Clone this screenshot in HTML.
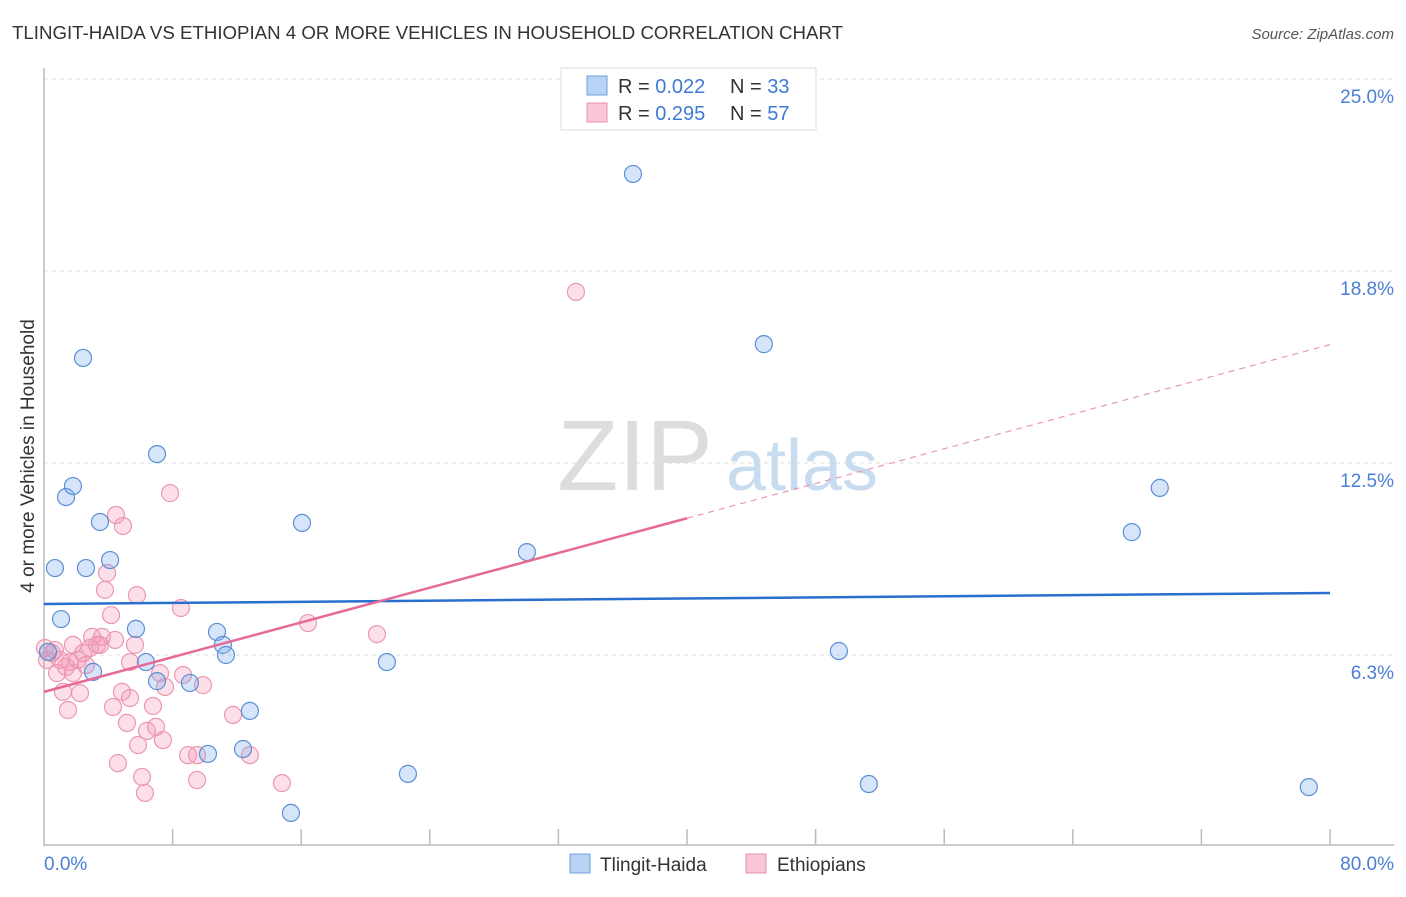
<!DOCTYPE html>
<html><head><meta charset="utf-8"><style>
body{margin:0;background:#fff;font-family:"Liberation Sans",sans-serif;}
svg text{font-family:"Liberation Sans",sans-serif;}
</style></head><body>
<svg width="1406" height="892" xmlns="http://www.w3.org/2000/svg">
<text x="12" y="39" font-size="18" fill="#333" textLength="831" lengthAdjust="spacingAndGlyphs">TLINGIT-HAIDA VS ETHIOPIAN 4 OR MORE VEHICLES IN HOUSEHOLD CORRELATION CHART</text>
<text x="1394" y="39" font-size="15" fill="#555" font-style="italic" text-anchor="end">Source: ZipAtlas.com</text>
<g>
<text x="635" y="490" font-size="100" fill="#ddd" font-family="Liberation Serif" text-anchor="middle">ZIP</text>
<text x="802" y="490" font-size="72" fill="#c8dcf0" text-anchor="middle">atlas</text>
</g>
<g id="grid"></g>
<g id="axes"></g>
<g id="pts"></g>
<g id="lines"></g>
<text transform="translate(34,456) rotate(-90)" font-size="19" fill="#333" text-anchor="middle">4 or more Vehicles in Household</text>
<text x="44" y="870" font-size="19" fill="#4a7fd4">0.0%</text>
<text x="1394" y="870" font-size="19" fill="#4a7fd4" text-anchor="end">80.0%</text>
<g>
<rect x="561" y="68" width="255" height="62" fill="#fff" stroke="#ddd"/>
<rect x="587" y="76" width="20" height="19" fill="#b9d3f5" stroke="#6fa0e0"/>
<rect x="587" y="103" width="20" height="19" fill="#f9c7d6" stroke="#e890a8"/>
<text x="618" y="93" font-size="20" fill="#333">R = <tspan fill="#3d7ad6">0.022</tspan></text>
<text x="730" y="93" font-size="20" fill="#333">N = <tspan fill="#3d7ad6">33</tspan></text>
<text x="618" y="120" font-size="20" fill="#333">R = <tspan fill="#3d7ad6">0.295</tspan></text>
<text x="730" y="120" font-size="20" fill="#333">N = <tspan fill="#3d7ad6">57</tspan></text>
</g>
<g>
<rect x="570" y="854" width="20" height="19" fill="#b9d3f5" stroke="#6fa0e0"/>
<text x="600" y="871" font-size="19" fill="#333">Tlingit-Haida</text>
<rect x="746" y="854" width="20" height="19" fill="#f9c7d6" stroke="#e890a8"/>
<text x="777" y="871" font-size="19" fill="#333">Ethiopians</text>
</g>
</svg>
<script>
const yTicks=[6.25,12.5,18.75,25];
const yTickLabels=["6.3%","12.5%","18.8%","25.0%"];
const xTicks=[8,16,24,32,40,48,56,64,72,80];
const blueX=[0.68,1.06,1.37,1.80,2.43,2.61,3.05,3.48,4.11,5.72,6.34,7.03,7.03,9.08,10.20,10.76,11.13,11.32,12.38,12.81,15.36,16.05,21.33,22.64,30.04,36.64,44.78,49.45,51.31,67.67,69.41,78.68,0.25];
const blueY=[9.08,7.42,11.39,11.75,15.92,9.08,5.70,10.58,9.34,7.10,6.02,12.79,5.40,5.34,3.03,7.00,6.58,6.25,3.19,4.43,1.11,10.55,6.02,2.38,9.60,21.91,16.37,6.38,2.05,10.25,11.69,1.95,6.35];
const pinkX=[7.84,4.48,4.91,3.92,3.79,5.78,8.52,4.17,16.42,5.66,2.99,3.61,3.30,1.80,0.50,1.62,5.35,2.43,7.22,8.65,7.53,9.89,0.81,1.80,1.18,2.24,4.85,5.35,4.29,6.78,1.49,11.76,5.16,6.97,6.41,7.40,5.85,8.96,9.52,12.81,4.60,6.10,9.52,14.80,6.28,33.09,20.71,0.19,0.68,1.00,1.37,2.61,2.86,3.48,2.11,4.42,0.06];
const pinkY=[11.52,10.81,10.45,8.92,8.37,8.20,7.78,7.55,7.29,6.58,6.84,6.84,6.58,6.58,6.31,6.02,6.02,6.31,5.66,5.60,5.21,5.27,5.66,5.66,5.05,5.01,5.05,4.85,4.56,4.59,4.46,4.30,4.04,3.91,3.78,3.48,3.32,2.99,2.99,2.99,2.73,2.28,2.18,2.08,1.76,18.07,6.93,6.09,6.41,6.09,5.86,5.92,6.48,6.58,6.09,6.74,6.48];
const blueTrend=[7.91,0.0045];
const pinkTrend=[5.05,0.1413];
const NS="http://www.w3.org/2000/svg";
const sx=v=>44+v/80*1286, sy=v=>847-v/25*768;
function mk(t,a,p){const e=document.createElementNS(NS,t);for(const k in a)e.setAttribute(k,a[k]);p.appendChild(e);return e;}
const grid=document.getElementById('grid'),axes=document.getElementById('axes'),pts=document.getElementById('pts'),lines=document.getElementById('lines');
yTicks.forEach((v,i)=>{
 const l=mk('line',{x1:44,x2:1394,y1:sy(v),y2:sy(v),stroke:'#ddd','stroke-dasharray':'4,4'},grid);
 
 
 const t=mk('text',{x:1394,y:sy(v)+24,'font-size':19,fill:'#4a7fd4','text-anchor':'end'},grid);
 t.textContent=yTickLabels[i];
 
 
});
const ya=mk('line',{x1:44,x2:44,y1:68,y2:846,stroke:'#bbb','stroke-width':1.5},axes);


const xa=mk('line',{x1:44,x2:1394,y1:845,y2:845,stroke:'#bbb','stroke-width':1.5},axes);


xTicks.forEach(v=>{
 const t=mk('line',{x1:sx(v),x2:sx(v),y1:829,y2:845,stroke:'#bbb','stroke-width':1.5},axes);
 
 
});
pinkX.forEach((x,i)=>{
 const c=mk('circle',{cx:sx(x),cy:sy(pinkY[i]),r:8.5,fill:'rgba(244,150,180,0.3)',stroke:'#eb98b1','stroke-width':1.2},pts);
 
 
});
blueX.forEach((x,i)=>{
 const c=mk('circle',{cx:sx(x),cy:sy(blueY[i]),r:8.5,fill:'rgba(120,170,235,0.3)',stroke:'#5b8fd6','stroke-width':1.2},pts);
 
 
});
const bl=mk('line',{x1:sx(0),y1:sy(blueTrend[0]),x2:sx(80),y2:sy(blueTrend[0]+blueTrend[1]*80),stroke:'#2a6fd0','stroke-width':2.5},lines);


const pl=mk('line',{x1:sx(0),y1:sy(pinkTrend[0]),x2:sx(40),y2:sy(pinkTrend[0]+pinkTrend[1]*40),stroke:'#e56a96','stroke-width':2.5},lines);


const pd=mk('line',{x1:sx(40),y1:sy(pinkTrend[0]+pinkTrend[1]*40),x2:sx(80),y2:sy(pinkTrend[0]+pinkTrend[1]*80),stroke:'#eb98b1','stroke-width':1.2,'stroke-dasharray':'6,5'},lines);


</script>
</body></html>
